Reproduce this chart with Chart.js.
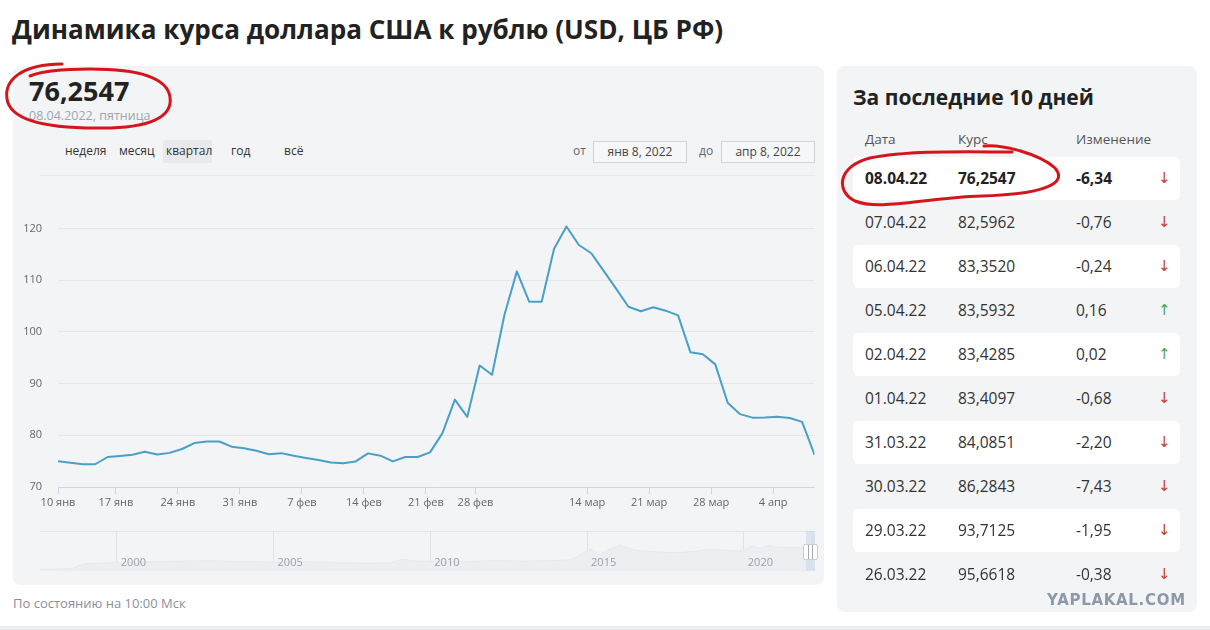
<!DOCTYPE html>
<html><head><meta charset="utf-8">
<script src="https://cdn.jsdelivr.net/npm/chart.js@4.4.1/dist/chart.umd.min.js"></script>
<style>
body{margin:0;width:1210px;height:630px;background:#fff;font-family:"Open Sans","Noto Sans",sans-serif;position:relative;overflow:hidden;color:#222}
.abs{position:absolute;white-space:nowrap}
#title{left:12px;top:12px;font-size:26.1px;font-weight:700;color:#222;line-height:34px}
#leftPanel{left:13px;top:66px;width:811px;height:519px;background:#f3f4f6;border-radius:8px}
#rightPanel{left:837px;top:66px;width:360px;height:546px;background:#f3f4f6;border-radius:8px}
#bigVal{left:29px;top:74px;font-size:27px;font-weight:700;color:#222;line-height:34px}
#bigDate{left:29px;top:107px;font-size:12.5px;color:#a0a5ae;line-height:18px}
.btn{top:142px;font-size:12px;color:#333;line-height:18px}
#btnSel{left:163px;top:140px;width:49px;height:23px;background:#e8e9ec;border-radius:2px}
.lbl{top:142px;font-size:12px;color:#666;line-height:18px}
.inp{top:141px;height:20px;width:92px;border:1px solid #d3d5d9;background:#f6f7f8;font-size:12px;color:#444;line-height:20px;text-align:center}
#sep{left:40px;top:175px;width:775px;height:1px;background:#e6e8eb}
#main{left:13px;top:194px;width:812px;height:323px}
#navTop{left:40px;top:531px;width:775px;height:1px;background:#e2e4e8}
#nav{left:40px;top:531px;width:775px;height:40px}
#navSel{left:806px;top:531px;width:9px;height:40px;background:rgba(190,210,230,0.45)}
#navHandle{left:803px;top:544px;width:13px;height:14px;background:#fff;border:1px solid #c9ccd1;border-radius:2px;
 background-image:linear-gradient(90deg,transparent 4px,#aaa 4px,#aaa 5px,transparent 5px,transparent 8px,#aaa 8px,#aaa 9px,transparent 9px)}
#footer{left:13px;top:593px;font-size:13px;color:#8a8f99;line-height:20px}
#rtitle{left:853px;top:82px;font-size:21px;font-weight:700;color:#222;line-height:30px}
.th{top:130px;font-size:13.5px;color:#555;line-height:18px}
#table{left:853px;top:157px;width:327px}
.row{position:relative;height:43px;margin-bottom:1px;border-radius:6px;font-size:15.5px;color:#333}
.row.w{background:#fff}
.row span{position:absolute;top:0;line-height:43px}
.row.b{font-weight:700;color:#222}
.arr{font-family:"DejaVu Sans",sans-serif;font-size:15px;font-weight:400}
#wm{left:1047px;top:590px;font-size:15px;font-weight:700;color:#8d99a6;letter-spacing:0.7px;line-height:20px;font-family:"DejaVu Sans",sans-serif}
#bottomBar{left:0;top:626px;width:1210px;height:4px;background:#eceef0}
svg{position:absolute;left:0;top:0;pointer-events:none}
</style></head>
<body>
<div class="abs" id="title">Динамика курса доллара США к рублю (USD, ЦБ РФ)</div>
<div class="abs" id="leftPanel"></div>
<div class="abs" id="rightPanel"></div>
<div class="abs" id="bigVal">76,2547</div>
<div class="abs" id="bigDate">08.04.2022, пятница</div>
<div class="abs" id="btnSel"></div>
<div class="abs btn" style="left:65px">неделя</div>
<div class="abs btn" style="left:119px">месяц</div>
<div class="abs btn" style="left:166px">квартал</div>
<div class="abs btn" style="left:231px">год</div>
<div class="abs btn" style="left:284px">всё</div>
<div class="abs lbl" style="left:573px">от</div>
<div class="abs inp" style="left:593px">янв 8, 2022</div>
<div class="abs lbl" style="left:699px">до</div>
<div class="abs inp" style="left:721px">апр 8, 2022</div>
<div class="abs" id="sep"></div>
<div class="abs" id="main"><canvas id="mainC"></canvas></div>
<div class="abs" id="navTop"></div>
<div class="abs" id="nav"><canvas id="navC"></canvas></div>
<div class="abs" id="navSel"></div>
<div class="abs" id="navHandle"></div>
<div class="abs" id="footer">По состоянию на 10:00 Мск</div>
<div class="abs" id="rtitle">За последние 10 дней</div>
<div class="abs th" style="left:865px">Дата</div>
<div class="abs th" style="left:958px">Курс</div>
<div class="abs th" style="left:1076px">Изменение</div>
<div class="abs" id="table"></div>
<div class="abs" id="wm">YAPLAKAL.COM</div>
<div class="abs" id="bottomBar"></div>
<svg width="1210" height="630" viewBox="0 0 1210 630">
 <path d="M 62 64 C 22 64, 4 80, 7 99 C 10 119, 42 128, 96 128 C 150 129, 173 117, 170 97 C 167 77, 138 69, 90 69 C 62 69, 42 71, 30 76" fill="none" stroke="#d4161c" stroke-width="3" stroke-linecap="round"/>
 <path d="M 984 146 C 1002 144, 1040 154, 1055 168 C 1068 183, 1046 194, 982 196 C 922 198, 880 211, 855 201 C 835 191, 838 166, 870 158 C 910 150, 972 152, 1012 152" fill="none" stroke="#d4161c" stroke-width="3" stroke-linecap="round"/>
</svg>
<script>
// ---- main series (ЦБ РФ, USD/RUB) ----
const dates = [
 '2022-01-11','2022-01-12','2022-01-13','2022-01-14','2022-01-15',
 '2022-01-18','2022-01-19','2022-01-20','2022-01-21','2022-01-22',
 '2022-01-25','2022-01-26','2022-01-27','2022-01-28','2022-01-29',
 '2022-02-01','2022-02-02','2022-02-03','2022-02-04','2022-02-05',
 '2022-02-08','2022-02-09','2022-02-10','2022-02-11','2022-02-12',
 '2022-02-15','2022-02-16','2022-02-17','2022-02-18','2022-02-19',
 '2022-02-22','2022-02-24','2022-02-25','2022-02-26',
 '2022-03-01','2022-03-02','2022-03-03','2022-03-04','2022-03-05',
 '2022-03-09','2022-03-10','2022-03-11','2022-03-12',
 '2022-03-15','2022-03-16','2022-03-17','2022-03-18','2022-03-19',
 '2022-03-22','2022-03-23','2022-03-24','2022-03-25','2022-03-26',
 '2022-03-29','2022-03-30','2022-03-31','2022-04-01','2022-04-02',
 '2022-04-05','2022-04-06','2022-04-07','2022-04-08'
];
const rates = [
 75.0, 74.7, 74.4, 74.4, 75.8,
 76.0, 76.25, 76.8, 76.3, 76.6,
 77.35, 78.5, 78.8, 78.8, 77.8,
 77.5, 77.0, 76.35, 76.55, 76.05,
 75.6, 75.2, 74.75, 74.6, 74.95,
 76.5, 76.05, 74.95, 75.8, 75.8,
 76.7, 80.42, 86.9, 83.55,
 93.5, 91.7, 103.3, 111.7, 105.81,
 105.81, 116.08, 120.38, 116.8,
 115.2, 111.8, 108.35, 104.85, 104.0,
 104.75, 104.1, 103.2, 96.04, 95.66,
 93.71, 86.28, 84.09, 83.41, 83.43,
 83.59, 83.35, 82.60, 76.25
];
const tickDates = ['2022-01-10','2022-01-17','2022-01-24','2022-01-31','2022-02-07','2022-02-14','2022-02-21','2022-02-28','2022-03-14','2022-03-21','2022-03-28','2022-04-04'];
const tickLabels = ['10 янв','17 янв','24 янв','31 янв','7 фев','14 фев','21 фев','28 фев','14 мар','21 мар','28 мар','4 апр'];
const yTicks = [70, 80, 90, 100, 110, 120];

// ---- table: last 10 days ----
const tableDates = ['08.04.22','07.04.22','06.04.22','05.04.22','02.04.22','01.04.22','31.03.22','30.03.22','29.03.22','26.03.22'];
const tableRates = ['76,2547','82,5962','83,3520','83,5932','83,4285','83,4097','84,0851','86,2843','93,7125','95,6618'];
const tableChanges = [-6.34, -0.76, -0.24, 0.16, 0.02, -0.68, -2.20, -7.43, -1.95, -0.38];

// ---- navigator (long history, faint) ----
const navYears = [1997.55,1998.0,1998.6,1998.75,1999.0,1999.5,2000,2001,2002,2003,2004,2005,2006,2007,2008,2008.75,2009.1,2009.5,2010,2011,2012,2013,2014,2014.5,2014.95,2015.1,2015.4,2015.7,2016.05,2016.5,2017,2017.5,2018,2018.5,2018.75,2019,2019.5,2020,2020.25,2020.5,2020.8,2021,2021.5,2022.0,2022.15,2022.19,2022.27];
const navValues = [5.8,6.0,7.9,16,22.6,24.5,27,28.5,30.5,31.8,29.4,27.8,28.6,26.3,24.5,25.5,36,31,30,29,32,30.5,32.7,34.5,60,69,51,66,80,65,60,58,57,62,66,67,63.5,61.9,77,71,79,73.9,72.5,74.3,80,120,76];
const navTickYears = [2000, 2005, 2010, 2015, 2020];

// build table
const tbl = document.getElementById('table');
tableDates.forEach((d, i) => {
  const r = document.createElement('div');
  r.className = 'row' + (i % 2 === 0 ? ' w' : '') + (i === 0 ? ' b' : '');
  const ch = tableChanges[i];
  const chTxt = ch.toFixed(2).replace('.', ',');
  const up = ch > 0;
  r.innerHTML = '<span style="left:12px">' + d + '</span><span style="left:105px">' + tableRates[i] +
    '</span><span style="left:223px">' + chTxt + '</span><span class="arr" style="left:305px;color:' +
    (up ? '#4aa54a' : '#c0432d') + '">' + (up ? '↑' : '↓') + '</span>';
  tbl.appendChild(r);
});

// ordinal tick positions from dates
const toDay = s => Date.UTC(+s.slice(0,4), +s.slice(5,7)-1, +s.slice(8,10)) / 864e5;
const dayNums = dates.map(toDay);
function ordinalPos(s) {
  const d = toDay(s);
  if (d <= dayNums[0]) return 0;
  for (let i = 0; i < dayNums.length - 1; i++) {
    if (d >= dayNums[i] && d <= dayNums[i+1]) return i + (d - dayNums[i]) / (dayNums[i+1] - dayNums[i]);
  }
  return dayNums.length - 1;
}
const tickPos = tickDates.map(ordinalPos);

const fontFam = '"Open Sans","Noto Sans",sans-serif';
new Chart(document.getElementById('mainC'), {
  type: 'line',
  data: { datasets: [{
    data: rates.map((v, i) => ({ x: i, y: v })),
    borderColor: '#4a9fc6', borderWidth: 2, pointRadius: 0, tension: 0, fill: false,
    borderJoinStyle: 'round'
  }]},
  options: {
    responsive: true, maintainAspectRatio: false, animation: false, events: [],
    layout: { padding: { top: 0, right: 10.5, left: 0, bottom: 0 } },
    plugins: { legend: { display: false }, tooltip: { enabled: false } },
    scales: {
      x: {
        type: 'linear', min: 0, max: rates.length - 1,
        afterFit: s => { s.height = 30; },
        afterBuildTicks: s => { s.ticks = tickPos.map(v => ({ value: v })); },
        ticks: { autoSkip: false, maxRotation: 0, padding: 2, color: '#666', font: { size: 11, family: fontFam },
                 callback: (v, i) => tickLabels[i] },
        grid: { drawOnChartArea: false, tickLength: 7, color: '#ccd6eb' },
        border: { color: '#ccd6eb' }
      },
      y: {
        min: 70, max: 125,
        afterFit: s => { s.width = 45; },
        afterBuildTicks: s => { s.ticks = yTicks.map(v => ({ value: v })); },
        ticks: { padding: 2, color: '#666', font: { size: 11, family: fontFam } },
        grid: { color: '#e6e6e6', drawTicks: true, tickLength: 14, tickColor: 'rgba(0,0,0,0)' },
        border: { display: false }
      }
    }
  }
});

const yearLabels = {
  id: 'yearLabels',
  afterDraw(chart) {
    const ctx = chart.ctx, xs = chart.scales.x, a = chart.chartArea;
    ctx.save();
    ctx.fillStyle = '#9ba0a8';
    ctx.font = '11px ' + fontFam;
    ctx.textBaseline = 'middle';
    navTickYears.forEach(y => ctx.fillText(String(y), xs.getPixelForValue(y) + 4, a.bottom - 8));
    ctx.restore();
  }
};
new Chart(document.getElementById('navC'), {
  type: 'line',
  data: { datasets: [{
    data: navYears.map((x, i) => ({ x: x, y: navValues[i] })),
    borderColor: '#e6e8eb', borderWidth: 1, backgroundColor: '#eceef1', fill: 'origin', pointRadius: 0, tension: 0
  }]},
  options: {
    responsive: true, maintainAspectRatio: false, animation: false, events: [],
    layout: { padding: 0 },
    plugins: { legend: { display: false }, tooltip: { enabled: false } },
    scales: {
      x: { type: 'linear', min: 1997.55, max: 2022.27,
           afterBuildTicks: s => { s.ticks = navTickYears.map(v => ({ value: v })); },
           ticks: { display: false }, grid: { color: '#e1e3e7', drawTicks: false }, border: { display: false } },
      y: { display: false, min: 0, max: 124 }
    }
  },
  plugins: [yearLabels]
});
</script>
</body></html>
